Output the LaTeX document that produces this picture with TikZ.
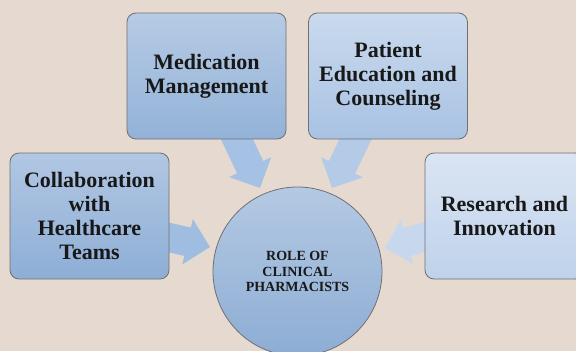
\documentclass[tikz,border=0pt]{standalone}
\usepackage{fontspec}
\setmainfont{Liberation Serif}
\usetikzlibrary{calc,arrows.meta}

\definecolor{paper}{HTML}{E6D9CF}
\definecolor{boxline}{HTML}{707070}
\definecolor{ink}{HTML}{181818}
\definecolor{medtop}{HTML}{B6CBE4}
\definecolor{medbot}{HTML}{93B2D8}
\definecolor{pattop}{HTML}{CADAED}
\definecolor{patbot}{HTML}{A8C2E3}
\definecolor{coltop}{HTML}{B1C7E3}
\definecolor{colbot}{HTML}{8EAED6}
\definecolor{restop}{HTML}{DAE5F3}
\definecolor{resbot}{HTML}{BFD2EB}
\definecolor{hubtop}{HTML}{B4C9E3}
\definecolor{hubbot}{HTML}{8DADD4}
\definecolor{arrmed}{HTML}{A5C1E3}
\definecolor{arrpat}{HTML}{B4CBE8}
\definecolor{arrcol}{HTML}{9FBCE1}
\definecolor{arrres}{HTML}{C7D8EE}

\pgfdeclarelayer{backdrop}
\pgfdeclarelayer{links}
\pgfsetlayers{backdrop,links,main}

\begin{document}
\begin{tikzpicture}[x=1pt,y=-1pt,
  box/.style={rounded corners=9pt, draw=boxline, line width=0.8pt,
    minimum width=159pt, minimum height=126pt, inner sep=0pt,
    align=center, text=ink, font=\fontsize{22}{24}\selectfont\bfseries},
  hub/.style={circle, draw=boxline, line width=0.8pt, minimum size=169pt,
    inner sep=0pt, align=center, text=ink,
    font=\fontsize{14}{15.5}\selectfont\bfseries,
    top color=hubtop, bottom color=hubbot},
  blockarrow/.style={line width=29pt, -{Triangle[width=45pt,length=23pt]}},
]
\useasboundingbox (0,0) rectangle (576,351);
\clip (0,0) rectangle (576,351);

\begin{pgfonlayer}{backdrop}
  \fill[paper] (0,0) rectangle (576,351);
\end{pgfonlayer}

% the five topics and the central hub
\node[box, top color=medtop, bottom color=medbot] (med) at (206.5,76)
  {Medication\\Management};
\node[box, top color=pattop, bottom color=patbot] (pat) at (388,76)
  {Patient\\Education and\\Counseling};
\node[box, top color=coltop, bottom color=colbot] (col) at (89.5,216)
  {Collaboration\\with\\Healthcare\\Teams};
\node[box, top color=restop, bottom color=resbot] (res) at (504.5,216)
  {Research and\\Innovation};
\node[hub] (hub) at (297.5,271.5) {ROLE OF\\CLINICAL\\PHARMACISTS};

% arrow tips pointing at the hub
\coordinate (medtip) at (260,188);
\coordinate (pattip) at (332,188);
\coordinate (coltip) at (210,247);
\coordinate (restip) at (385,248);

\begin{pgfonlayer}{links}
  \draw[blockarrow, arrmed] ($(med.south)+(26.3,-9)$) -- (medtip);
  \draw[blockarrow, arrpat] ($(pat.south)+(-28.2,-9)$) -- (pattip);
  \draw[blockarrow, arrcol] ($(col.east)+(-10,19.2)$) -- (coltip);
  \draw[blockarrow, arrres] ($(res.west)+(10,18.3)$) -- (restip);
\end{pgfonlayer}
\end{tikzpicture}
\end{document}
